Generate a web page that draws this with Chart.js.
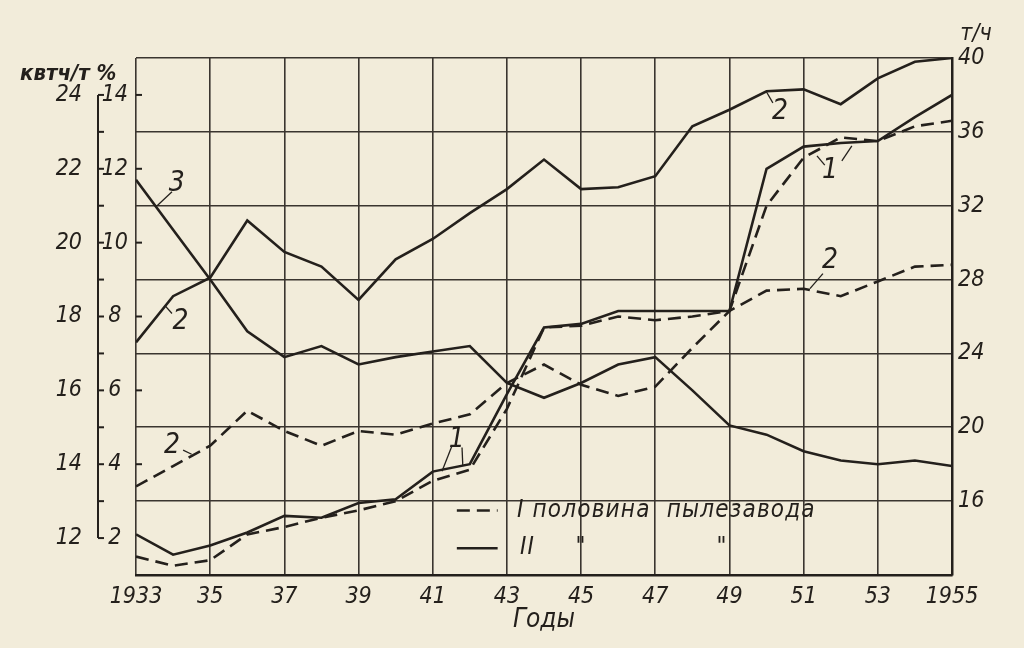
<!DOCTYPE html>
<html>
<head>
<meta charset="utf-8">
<script src="https://cdn.jsdelivr.net/npm/chart.js@4"></script>
<style>
  html, body { margin: 0; padding: 0; background: #f2ecda; }
  canvas { display: block; }
</style>
</head>
<body>
<canvas id="chart" width="1024" height="648"></canvas>
<script>
// years on the x axis
const years = [1933, 1934, 1935, 1936, 1937, 1938, 1939, 1940, 1941, 1942, 1943, 1944,
               1945, 1946, 1947, 1948, 1949, 1950, 1951, 1952, 1953, 1954, 1955];
const yearLabels = ['1933', '35', '37', '39', '41', '43', '45', '47', '49', '51', '53', '1955'];

// curve 1, % (left inner scale)
const curve1HalfI  = [1.5, 1.25, 1.4, 2.1, 2.3, 2.55, 2.75, 3.0, 3.55, 3.85, 5.5, 7.7,
                      7.75, 8.0, 7.9, 8.0, 8.15, 11.0, 12.3, 12.85, 12.75, 13.15, 13.3];
const curve1HalfII = [2.1, 1.55, 1.8, 2.15, 2.6, 2.55, 2.95, 3.05, 3.8, 4.0, 5.9, 7.7,
                      7.8, 8.15, 8.15, 8.15, 8.15, 12.0, 12.6, 12.7, 12.75, 13.4, 14.0];

// curve 2, т/ч (right scale)
const curve2HalfI  = [16.8, 17.9, 19.0, 20.9, 19.8, 19.0, 19.8, 19.6, 20.2, 20.7, 22.4, 23.4,
                      22.3, 21.7, 22.2, 24.3, 26.3, 27.4, 27.5, 27.1, 27.9, 28.7, 28.8];
const curve2HalfII = [24.6, 27.1, 28.1, 31.2, 29.5, 28.7, 26.9, 29.1, 30.2, 31.6, 32.9, 34.5,
                      32.9, 33.0, 33.6, 36.3, 37.2, 38.2, 38.3, 37.5, 38.9, 39.8, 40.0];

// curve 3, квтч/т (left outer scale)
const curve3 = [21.7, 20.35, 19.0, 17.6, 16.9, 17.2, 16.7, 16.9, 17.05, 17.2, 16.2, 15.8,
                16.2, 16.7, 16.9, 16.0, 15.05, 14.8, 14.35, 14.1, 14.0, 14.1, 13.95];

const rateTicks = [12, 16, 20, 24, 28, 32, 36, 40];

const paper = '#f2ecda';
const ink = '#24201c';
const gridInk = '#3a352f';
const hand = "'Liberation Sans Narrow', 'DejaVu Sans Condensed', 'Liberation Sans', sans-serif";

const pts = arr => arr.map((v, i) => ({ x: years[i], y: v }));

// curve numbers with their little leader strokes, in (year, т/ч)
const curveMarks = [
  { text: '3', at: [1934.1, 33.2],  lead: [[1933.97, 32.76], [1933.57, 32.0]] },
  { text: '2', at: [1934.2, 25.7],  lead: [[1933.97, 26.16], [1933.8, 26.55]] },
  { text: '2', at: [1933.97, 19.0], lead: [[1934.27, 18.76], [1934.5, 18.54]] },
  { text: '1', at: [1941.65, 19.3], lead: [[1941.52, 19.0], [1941.25, 17.62]] },
  { text: '',  at: [1941.65, 19.3], lead: [[1941.79, 18.9], [1941.81, 17.95]] },
  { text: '2', at: [1950.36, 37.1], lead: [[1950.0, 38.16], [1950.17, 37.57]] },
  { text: '1', at: [1951.71, 33.9], lead: [[1951.36, 34.7], [1951.57, 34.2]] },
  { text: '',  at: [1951.71, 33.9], lead: [[1952.3, 35.24], [1952.03, 34.43]] },
  { text: '2', at: [1951.71, 29.0], lead: [[1951.52, 28.32], [1951.17, 27.51]] }
];

const deco = {
  id: 'deco',
  beforeDatasetsDraw(chart) {
    const { ctx, scales: { x, y } } = chart;
    ctx.save();
    ctx.fillStyle = paper;
    // field under the legend has no grid
    let l = x.getPixelForValue(41) + 1.5, r = x.getPixelForValue(51) + 2;
    let t = y.getPixelForValue(16.85), b = y.getPixelForValue(12) - 1.5;
    ctx.fillRect(l, t, r - l, b - t);
    l = r; r = x.getPixelForValue(53) - 1.5; t = y.getPixelForValue(16) + 1.5;
    ctx.fillRect(l, t, r - l, b - t);
    // short ticks on the bottom edge there
    ctx.strokeStyle = gridInk;
    ctx.lineWidth = 1.5;
    [43, 45, 47, 49, 51].forEach(v => {
      const px = x.getPixelForValue(v);
      ctx.beginPath();
      ctx.moveTo(px, b + 1);
      ctx.lineTo(px, b - 5);
      ctx.stroke();
    });
    ctx.restore();
  },
  afterDraw(chart) {
    const { ctx, chartArea: area, scales: { x, y, yP, yK } } = chart;
    ctx.save();
    ctx.strokeStyle = ink;
    ctx.fillStyle = ink;
    ctx.lineWidth = 2;

    // inner % axis line with ticks to the right
    const ax = yP.left;
    ctx.beginPath();
    ctx.moveTo(ax, yP.getPixelForValue(14));
    ctx.lineTo(ax, yP.getPixelForValue(2));
    ctx.stroke();
    for (let v = 2; v <= 14; v++) {
      const py = yP.getPixelForValue(v);
      ctx.beginPath();
      ctx.moveTo(ax, py);
      ctx.lineTo(ax + 6, py);
      ctx.stroke();
    }
    // ticks on the plot's left edge
    for (let v = 4; v <= 14; v += 2) {
      const py = yP.getPixelForValue(v);
      ctx.beginPath();
      ctx.moveTo(area.left, py);
      ctx.lineTo(area.left + 6, py);
      ctx.stroke();
    }

    // curve numbers
    ctx.font = 'italic 28px ' + hand;
    ctx.textAlign = 'center';
    ctx.textBaseline = 'middle';
    ctx.lineWidth = 1.3;
    curveMarks.forEach(m => {
      if (m.text) ctx.fillText(m.text, x.getPixelForValue(m.at[0]), y.getPixelForValue(m.at[1]));
      ctx.beginPath();
      ctx.moveTo(x.getPixelForValue(m.lead[0][0]), y.getPixelForValue(m.lead[0][1]));
      ctx.lineTo(x.getPixelForValue(m.lead[1][0]), y.getPixelForValue(m.lead[1][1]));
      ctx.stroke();
    });

    // legend
    const sx0 = x.getPixelForValue(1941.65), sx1 = x.getPixelForValue(1942.75);
    const row1 = y.getPixelForValue(15.5), row2 = y.getPixelForValue(13.45);
    ctx.lineWidth = 2.5;
    ctx.setLineDash([13, 7]);
    ctx.beginPath(); ctx.moveTo(sx0, row1); ctx.lineTo(sx1, row1); ctx.stroke();
    ctx.setLineDash([]);
    ctx.beginPath(); ctx.moveTo(sx0, row2); ctx.lineTo(sx1, row2); ctx.stroke();
    ctx.font = 'italic 24px ' + hand;
    ctx.textAlign = 'left';
    ctx.letterSpacing = '1.2px';
    ctx.fillText('I половина  пылезавода', x.getPixelForValue(1943.27), row1);
    ctx.fillText('II', x.getPixelForValue(1943.35), row2);
    ctx.textAlign = 'center';
    ctx.fillText('"', x.getPixelForValue(1945.0), row2);
    ctx.fillText('"', x.getPixelForValue(1948.8), row2);
    ctx.letterSpacing = '0px';

    // unit captions
    ctx.font = 'italic 23px ' + hand;
    ctx.fillText('т/ч', y.left + 12 + 12, area.top - 24);
    ctx.font = 'italic bold 22px ' + hand;
    ctx.textAlign = 'left';
    ctx.fillText('квтч/т %', yK.left + 20, area.top + 16);
    ctx.restore();
  }
};

const tickFont = { family: hand, size: 23, style: 'italic' };

new Chart(document.getElementById('chart').getContext('2d'), {
  type: 'line',
  data: {
    datasets: [
      { label: 'I половина пылезавода, 1', data: pts(curve1HalfI), yAxisID: 'yP',
        borderDash: [13, 7] },
      { label: 'II половина пылезавода, 1', data: pts(curve1HalfII), yAxisID: 'yP' },
      { label: 'I половина пылезавода, 2', data: pts(curve2HalfI), yAxisID: 'y',
        borderDash: [13, 7] },
      { label: 'II половина пылезавода, 2', data: pts(curve2HalfII), yAxisID: 'y' },
      { label: '3', data: pts(curve3), yAxisID: 'yK' }
    ]
  },
  options: {
    responsive: false,
    animation: false,
    layout: { padding: { top: 58, left: 0, right: 0, bottom: 0 } },
    elements: {
      line: { borderColor: ink, borderWidth: 2.6, tension: 0, fill: false },
      point: { radius: 0 }
    },
    plugins: { legend: { display: false }, tooltip: { enabled: false } },
    scales: {
      x: {
        type: 'linear', min: 1933, max: 1955,
        afterBuildTicks: s => { s.ticks = years.filter((v, i) => i % 2 === 0).map(v => ({ value: v })); },
        ticks: { font: tickFont, color: ink, padding: 8, maxRotation: 0,
                 callback: (v) => yearLabels[(v - 1933) / 2] },
        grid: { color: gridInk, lineWidth: 1.6, drawTicks: false },
        border: { color: ink, width: 2.5 },
        title: { display: true, text: 'Годы', color: ink,
                 font: { family: hand, size: 26, style: 'italic' }, padding: { top: 0, bottom: 12 } },
        afterFit: s => { s.height = 73; }
      },
      y: {
        position: 'right', min: 12, max: 40,
        afterBuildTicks: s => { s.ticks = rateTicks.map(v => ({ value: v })); },
        ticks: { font: tickFont, color: ink, padding: 6,
                 callback: v => (v === 12 ? '' : v) },
        grid: { color: gridInk, lineWidth: 1.6, drawTicks: false },
        border: { color: ink, width: 2.5 },
        afterFit: s => { s.width = 72; }
      },
      yP: {
        position: 'left', weight: 0, min: 1, max: 15,
        ticks: { stepSize: 1, autoSkip: false, font: tickFont, color: ink, padding: 8,
                 crossAlign: 'center', callback: v => (v % 2 === 0 ? v : '') },
        grid: { display: false, drawTicks: false },
        border: { display: false },
        afterFit: s => { s.width = 38; }
      },
      yK: {
        position: 'left', weight: 1, min: 11, max: 25,
        ticks: { stepSize: 1, autoSkip: false, font: tickFont, color: ink, padding: 16,
                 callback: v => (v % 2 === 0 ? v : '') },
        grid: { display: false, drawTicks: false },
        border: { display: false },
        afterFit: s => { s.width = 98; }
      }
    }
  },
  plugins: [deco]
});
</script>
</body>
</html>
